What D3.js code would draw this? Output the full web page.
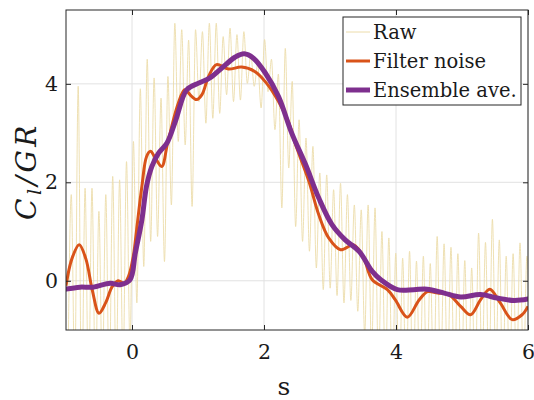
<!DOCTYPE html>
<meta charset="utf-8">
<style>
body { margin: 0; background: #fff; }
text { font-family: "DejaVu Serif", "Liberation Serif", serif; fill: #1a1a1a; }
.grid line { stroke: #e2e2e2; stroke-width: 1; }
.tick line { stroke: #262626; }
</style>
<body></body>
<script src="https://cdn.jsdelivr.net/npm/d3@7"></script>
<script>

// Raw signal: extrema (values below -1 are clipped by the axes)
var rawStartS = -0.92, rawPeriod = 0.1046, rawLead = -2.0;
var rawPeaks = [1.75, 3.95, 1.88, 1.88, 1.41, 1.75, 2.12, 2.05, 2.42, 2.83,
  3.9, 4.5, 4.12, 3.71, 4.15, 5.23, 5.1, 4.89, 5.1, 5.06,
  5.23, 5.23, 4.96, 5.13, 5.0, 5.06, 4.6, 4.4, 4.9, 4.5,
  4.2, 4.72, 4.05, 3.27, 2.9, 2.73, 2.19, 2.15, 1.85, 1.98,
  1.75, 1.54, 1.44, 1.54, 1.48, 1.0, 0.87, 0.56, 0.46, 0.6,
  0.4, 0.5, 0.35, 0.9, 0.75, 0.68, 0.55, 0.41, 0.26, 0.97,
  0.78, 1.25, 0.83, 0.5, 0.55, 0.77, 0.5];
var rawTroughs = [-2.0, -2.6, -2.3, -2.2, -2.0, -2.2, -2.0, -1.8, -1.3, -0.45,
  0.29, 0.8, 0.9, 0.39, 1.54, 2.83, 2.76, 1.51, 3.64, 3.2,
  3.3, 3.4, 3.78, 3.64, 3.67, 4.01, 3.95, 3.51, 3.84, 3.07,
  1.48, 2.29, 1.1, 0.8, 0.6, 0.26, -0.18, -0.15, -0.3, -0.45,
  -0.4, -0.62, -1.1, -1.5, -1.8, -2.0, -2.2, -2.4, -2.2, -2.4,
  -2.2, -2.3, -2.2, -2.1, -2.0, -2.2, -2.3, -2.4, -2.2, -1.9,
  -2.1, -1.8, -2.2, -2.1, -2.0, -1.9, -2.0];

// Filtered signal
var filterS = [-1.00, -0.91, -0.80, -0.70, -0.60, -0.50, -0.40, -0.30, -0.21, -0.12,
  -0.05, 0.02, 0.07, 0.15, 0.22, 0.28, 0.35, 0.45, 0.54, 0.70,
  0.80, 0.90, 0.98, 1.06, 1.16, 1.28, 1.46, 1.66, 1.86, 2.04,
  2.22, 2.37, 2.48, 2.68, 2.83, 2.98, 3.16, 3.36, 3.51, 3.64,
  3.87, 3.99, 4.17, 4.35, 4.48, 4.63, 4.80, 4.98, 5.13, 5.28,
  5.42, 5.58, 5.76, 5.91, 6.00];
var filterV = [-0.10, 0.45, 0.73, 0.45, -0.20, -0.66, -0.45, -0.12, 0.00, -0.05,
  0.10, 0.50, 1.04, 1.92, 2.52, 2.63, 2.50, 2.32, 2.80, 3.60,
  3.88, 3.75, 3.68, 3.78, 4.15, 4.39, 4.30, 4.34, 4.25, 4.01,
  3.64, 3.23, 2.76, 2.02, 1.34, 0.87, 0.63, 0.73, 0.46, 0.02,
  -0.18, -0.39, -0.74, -0.39, -0.22, -0.25, -0.28, -0.52, -0.69, -0.39,
  -0.17, -0.45, -0.79, -0.69, -0.52];

// Ensemble average
var ensS = [-1.00, -0.79, -0.59, -0.33, -0.18, -0.03, 0.05, 0.15, 0.22, 0.30,
  0.40, 0.53, 0.66, 0.83, 1.00, 1.18, 1.36, 1.56, 1.70, 1.84,
  2.02, 2.22, 2.42, 2.63, 2.83, 3.03, 3.23, 3.44, 3.64, 3.77,
  4.02, 4.27, 4.47, 4.73, 4.98, 5.28, 5.53, 5.79, 6.00];
var ensV = [-0.17, -0.13, -0.13, -0.05, -0.08, 0.02, 0.56, 1.24, 1.92, 2.32,
  2.59, 2.80, 3.25, 3.88, 4.01, 4.12, 4.32, 4.54, 4.61, 4.52,
  4.22, 3.74, 3.00, 2.36, 1.68, 1.14, 0.83, 0.60, 0.19, 0.02,
  -0.18, -0.18, -0.17, -0.25, -0.33, -0.28, -0.35, -0.40, -0.37];

var xTicks = [0, 2, 4, 6];
var yTicks = [0, 2, 4];
var legendNames = ["Raw", "Filter noise", "Ensemble ave."];

var W = 534, H = 400;
var margin = {top: 10, right: 6, bottom: 70, left: 66};
var width = W - margin.left - margin.right,
    height = H - margin.top - margin.bottom;

var colors = {raw: "#ecdcaa", filter: "#d95319", ens: "#7e2f8e"};

var svg = d3.select("body").append("svg")
    .attr("width", W)
    .attr("height", H);

var g = svg.append("g")
    .attr("transform", "translate(" + margin.left + "," + margin.top + ")");

var x = d3.scaleLinear().domain([-1, 6]).range([0, width]);
var y = d3.scaleLinear().domain([-1, 5.5]).range([height, 0]);

g.append("clipPath").attr("id", "plotclip")
  .append("rect").attr("width", width).attr("height", height);

// grid
var grid = g.append("g").attr("class", "grid");
grid.selectAll(".gx").data(xTicks).enter().append("line")
    .attr("x1", function(d) { return x(d); })
    .attr("x2", function(d) { return x(d); })
    .attr("y1", 0).attr("y2", height);
grid.selectAll(".gy").data(yTicks).enter().append("line")
    .attr("x1", 0).attr("x2", width)
    .attr("y1", function(d) { return y(d); })
    .attr("y2", function(d) { return y(d); });

// build raw points
var rawPts = [[rawStartS - rawPeriod / 2, rawLead]];
for (var i = 0; i < rawPeaks.length; i++) {
  rawPts.push([rawStartS + i * rawPeriod, rawPeaks[i]]);
  rawPts.push([rawStartS + (i + 0.5) * rawPeriod, rawTroughs[i]]);
}
var filterPts = filterS.map(function(s, i) { return [s, filterV[i]]; });
var ensPts = ensS.map(function(s, i) { return [s, ensV[i]]; });

var lineMono = d3.line()
    .x(function(d) { return x(d[0]); })
    .y(function(d) { return y(d[1]); })
    .curve(d3.curveMonotoneX);

var lineSmooth = d3.line()
    .x(function(d) { return x(d[0]); })
    .y(function(d) { return y(d[1]); })
    .curve(d3.curveCatmullRom.alpha(0.5));

var plot = g.append("g").attr("clip-path", "url(#plotclip)");

plot.append("path")
    .datum(rawPts)
    .attr("fill", "none")
    .attr("stroke", colors.raw)
    .attr("stroke-width", 0.9)
    .attr("d", lineMono);

plot.append("path")
    .datum(filterPts)
    .attr("fill", "none")
    .attr("stroke", colors.filter)
    .attr("stroke-width", 3)
    .attr("stroke-linejoin", "round")
    .attr("d", lineSmooth);

plot.append("path")
    .datum(ensPts)
    .attr("fill", "none")
    .attr("stroke", colors.ens)
    .attr("stroke-width", 5)
    .attr("stroke-linejoin", "round")
    .attr("stroke-linecap", "round")
    .attr("d", lineSmooth);

// axes with inward ticks
var fmt = d3.format("d");
g.append("g")
    .attr("transform", "translate(0," + height + ")")
    .call(d3.axisBottom(x).tickValues(xTicks).tickFormat(fmt).tickSizeInner(-5).tickSizeOuter(0).tickPadding(14));
g.append("g")
    .call(d3.axisLeft(y).tickValues(yTicks).tickFormat(fmt).tickSizeInner(-5).tickSizeOuter(0).tickPadding(8));
g.append("g")
    .call(d3.axisTop(x).tickValues(xTicks).tickSizeInner(-5).tickSizeOuter(0).tickFormat(""));
g.append("g")
    .attr("transform", "translate(" + width + ",0)")
    .call(d3.axisRight(y).tickValues(yTicks).tickSizeInner(-5).tickSizeOuter(0).tickFormat(""));

g.selectAll(".domain").remove();
g.selectAll(".tick text")
    .style("font-family", "'DejaVu Serif', serif")
    .style("font-size", "20.5px")
    .attr("fill", "#1a1a1a");

g.append("rect")
    .attr("width", width).attr("height", height)
    .attr("fill", "none")
    .attr("stroke", "#262626")
    .attr("stroke-width", 1);

// axis labels
svg.append("text")
    .attr("x", 284).attr("y", 395)
    .attr("text-anchor", "middle")
    .style("font-size", "25px")
    .text("s");

var yl = svg.append("text")
    .attr("transform", "translate(36,171) rotate(-90)")
    .attr("text-anchor", "middle")
    .style("font-size", "28px")
    .style("font-style", "italic")
    .style("letter-spacing", "3.5px");
yl.append("tspan").text("C");
yl.append("tspan").attr("baseline-shift", "-25%").style("font-size", "19px").text("l");
yl.append("tspan").text("/GR");

// legend
var leg = svg.append("g");
leg.append("rect")
    .attr("x", 343).attr("y", 17)
    .attr("width", 178).attr("height", 88)
    .attr("fill", "#fff")
    .attr("stroke", "#262626")
    .attr("stroke-width", 1);

var legColors = [colors.raw, colors.filter, colors.ens];
var legWidths = [1, 3, 5];
var items = leg.selectAll(".item").data(legendNames).enter().append("g")
    .attr("transform", function(d, i) { return "translate(0," + (32 + i * 29) + ")"; });
items.append("line")
    .attr("x1", 346).attr("x2", 370)
    .attr("stroke", function(d, i) { return legColors[i]; })
    .attr("stroke-width", function(d, i) { return legWidths[i]; });
items.append("text")
    .attr("x", 373).attr("dy", "0.35em")
    .style("font-size", "19.5px")
    .text(function(d) { return d; });

</script>
